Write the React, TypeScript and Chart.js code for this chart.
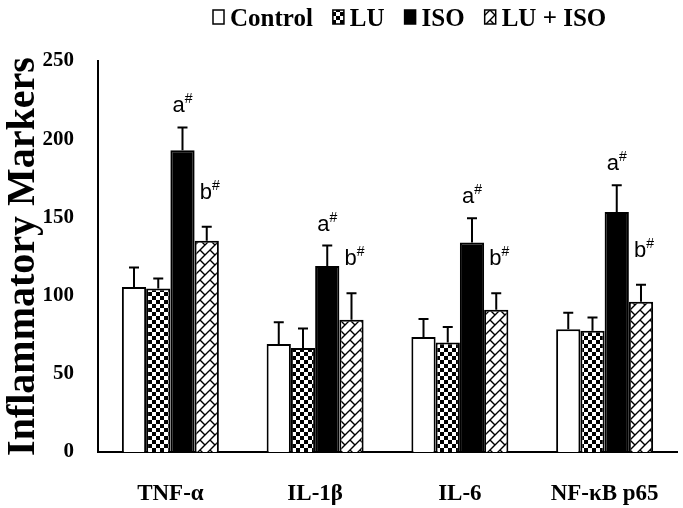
import React, { useEffect, useRef } from 'react';
import { Chart, registerables } from 'chart.js';

Chart.register(...registerables);

// ---------- data ----------
const categories = ['TNF-α', 'IL-1β', 'IL-6', 'NF-κB p65'];
const seriesNames = ['Control', 'LU', 'ISO', 'LU + ISO'];
const controlValues = [105.5, 69, 73.5, 78.5];
const controlErrors = [12.5, 14, 11.5, 10.5];
const luValues = [104.5, 66.5, 70, 77.5];
const luErrors = [6.5, 12.5, 10, 8.5];
const isoValues = [193, 119, 134, 153.5];
const isoErrors = [14.5, 13, 15.5, 17];
const luIsoValues = [135, 84.5, 91, 96];
const luIsoErrors = [9, 17, 10.5, 11];
const isoMarks = ['a', 'a', 'a', 'a'];
const luIsoMarks = ['b', 'b', 'b', 'b'];
const markSuffix = '#';
const yTicks = [0, 50, 100, 150, 200, 250];
const yTitle = 'Inflammatory Markers';

const SERIF = "'Liberation Serif', 'Times New Roman', serif";
const SANS = "'Liberation Sans', Arial, sans-serif";

function makeChecker(): CanvasPattern {
  const c = document.createElement('canvas');
  c.width = 8;
  c.height = 8;
  const g = c.getContext('2d')!;
  g.fillStyle = '#fff';
  g.fillRect(0, 0, 8, 8);
  g.fillStyle = '#000';
  g.fillRect(0, 0, 4, 4);
  g.fillRect(4, 4, 4, 4);
  return g.createPattern(c, 'repeat')!;
}

function makeZigzag(): CanvasPattern {
  const s = 10;
  const c = document.createElement('canvas');
  c.width = s;
  c.height = s;
  const g = c.getContext('2d')!;
  g.fillStyle = '#fff';
  g.fillRect(0, 0, s, s);
  g.strokeStyle = '#000';
  g.lineWidth = 1.4;
  g.beginPath();
  g.moveTo(-2, s + 2);
  g.lineTo(s + 2, -2);
  g.moveTo(-2, 2);
  g.lineTo(2, -2);
  g.moveTo(s - 2, s + 2);
  g.lineTo(s + 2, s - 2);
  g.moveTo(0, 0);
  g.lineTo(s / 2, s / 2);
  g.stroke();
  return g.createPattern(c, 'repeat')!;
}

export default function App() {
  const ref = useRef<HTMLCanvasElement>(null);

  useEffect(() => {
    const canvas = ref.current!;
    const checker = makeChecker();
    const zigzag = makeZigzag();
    const fills: any[] = ['#ffffff', checker, '#000000', zigzag];
    const values = [controlValues, luValues, isoValues, luIsoValues];
    const errors = [controlErrors, luErrors, isoErrors, luIsoErrors];

    const errorBarPlugin = {
      id: 'errorBars',
      afterDatasetsDraw(chart: any) {
        const ctx = chart.ctx;
        const ys = chart.scales.y;
        ctx.save();
        ctx.strokeStyle = '#000';
        ctx.lineWidth = 2;
        values.forEach((vals, i) => {
          const meta = chart.getDatasetMeta(i);
          meta.data.forEach((bar: any, j: number) => {
            const top = ys.getPixelForValue(vals[j] + errors[i][j]);
            ctx.beginPath();
            ctx.moveTo(bar.x, bar.y);
            ctx.lineTo(bar.x, top);
            ctx.moveTo(bar.x - 5, top);
            ctx.lineTo(bar.x + 5, top);
            ctx.stroke();
          });
        });
        ctx.restore();
      },
    };

    const marksPlugin = {
      id: 'marks',
      afterDatasetsDraw(chart: any) {
        const ctx = chart.ctx;
        const ys = chart.scales.y;
        ctx.save();
        ctx.fillStyle = '#000';
        ctx.textBaseline = 'alphabetic';
        ctx.textAlign = 'left';
        const drawMark = (dsIndex: number, marks: string[], lift: number, shift: number) => {
          const meta = chart.getDatasetMeta(dsIndex);
          meta.data.forEach((bar: any, j: number) => {
            const top = ys.getPixelForValue(values[dsIndex][j] + errors[dsIndex][j]);
            ctx.font = `22px ${SANS}`;
            const w1 = ctx.measureText(marks[j]).width;
            ctx.font = `14px ${SANS}`;
            const w2 = ctx.measureText(markSuffix).width;
            const x0 = bar.x - (w1 + w2) / 2 + shift;
            const base = top - lift;
            ctx.font = `22px ${SANS}`;
            ctx.fillText(marks[j], x0, base);
            ctx.font = `14px ${SANS}`;
            ctx.fillText(markSuffix, x0 + w1, base - 9);
          });
        };
        drawMark(2, isoMarks, 15, 0);
        drawMark(3, luIsoMarks, 28, 3);
        ctx.restore();
      },
    };

    const legendPlugin = {
      id: 'customLegend',
      afterDraw(chart: any) {
        const ctx = chart.ctx;
        ctx.save();
        ctx.font = `bold 25px ${SERIF}`;
        ctx.textBaseline = 'alphabetic';
        ctx.textAlign = 'left';
        let x = 213;
        seriesNames.forEach((name, i) => {
          ctx.fillStyle = fills[i];
          ctx.fillRect(x, 10, 11, 14);
          ctx.strokeStyle = '#000';
          ctx.lineWidth = 1.5;
          ctx.strokeRect(x, 10, 11, 14);
          ctx.fillStyle = '#000';
          ctx.fillText(name, x + 17, 26);
          x += 17 + ctx.measureText(name).width + 20;
        });
        ctx.restore();
      },
    };

    const chart = new Chart(canvas, {
      type: 'bar',
      data: {
        labels: categories,
        datasets: seriesNames.map((name, i) => ({
          label: name,
          data: values[i],
          backgroundColor: fills[i],
          borderColor: '#000000',
          borderWidth: 2,
          barPercentage: 1,
          categoryPercentage: 0.67,
        })),
      },
      options: {
        responsive: false,
        animation: false,
        devicePixelRatio: 1,
        layout: { padding: { top: 61, right: 6, left: 0, bottom: 0 } },
        plugins: {
          legend: { display: false },
          tooltip: { enabled: false },
        },
        scales: {
          x: {
            grid: { display: false },
            border: { display: true, color: '#000', width: 2 },
            ticks: {
              color: '#000',
              font: { family: SERIF, size: 23, weight: 'bold' },
              padding: 20,
              maxRotation: 0,
              autoSkip: false,
            },
            afterFit(scale: any) {
              scale.height = 56;
            },
          },
          y: {
            min: yTicks[0],
            max: yTicks[yTicks.length - 1],
            grid: { display: false },
            border: { display: true, color: '#000', width: 2 },
            ticks: {
              stepSize: yTicks[1] - yTicks[0],
              color: '#000',
              font: { family: SERIF, size: 21, weight: 'bold' },
              padding: 16,
            },
            title: {
              display: true,
              text: yTitle,
              color: '#000',
              font: { family: SERIF, size: 40, weight: 'bold' },
              padding: 0,
            },
            afterFit(scale: any) {
              scale.width = 98;
            },
          },
        },
      } as any,
      plugins: [errorBarPlugin, marksPlugin, legendPlugin],
    });
    return () => chart.destroy();
  }, []);

  return (
    <div style={{ position: 'fixed', left: 0, top: 0, width: 683, height: 508, background: '#fff' }}>
      <canvas ref={ref} width={683} height={508} style={{ width: 683, height: 508, display: 'block' }} />
    </div>
  );
}
